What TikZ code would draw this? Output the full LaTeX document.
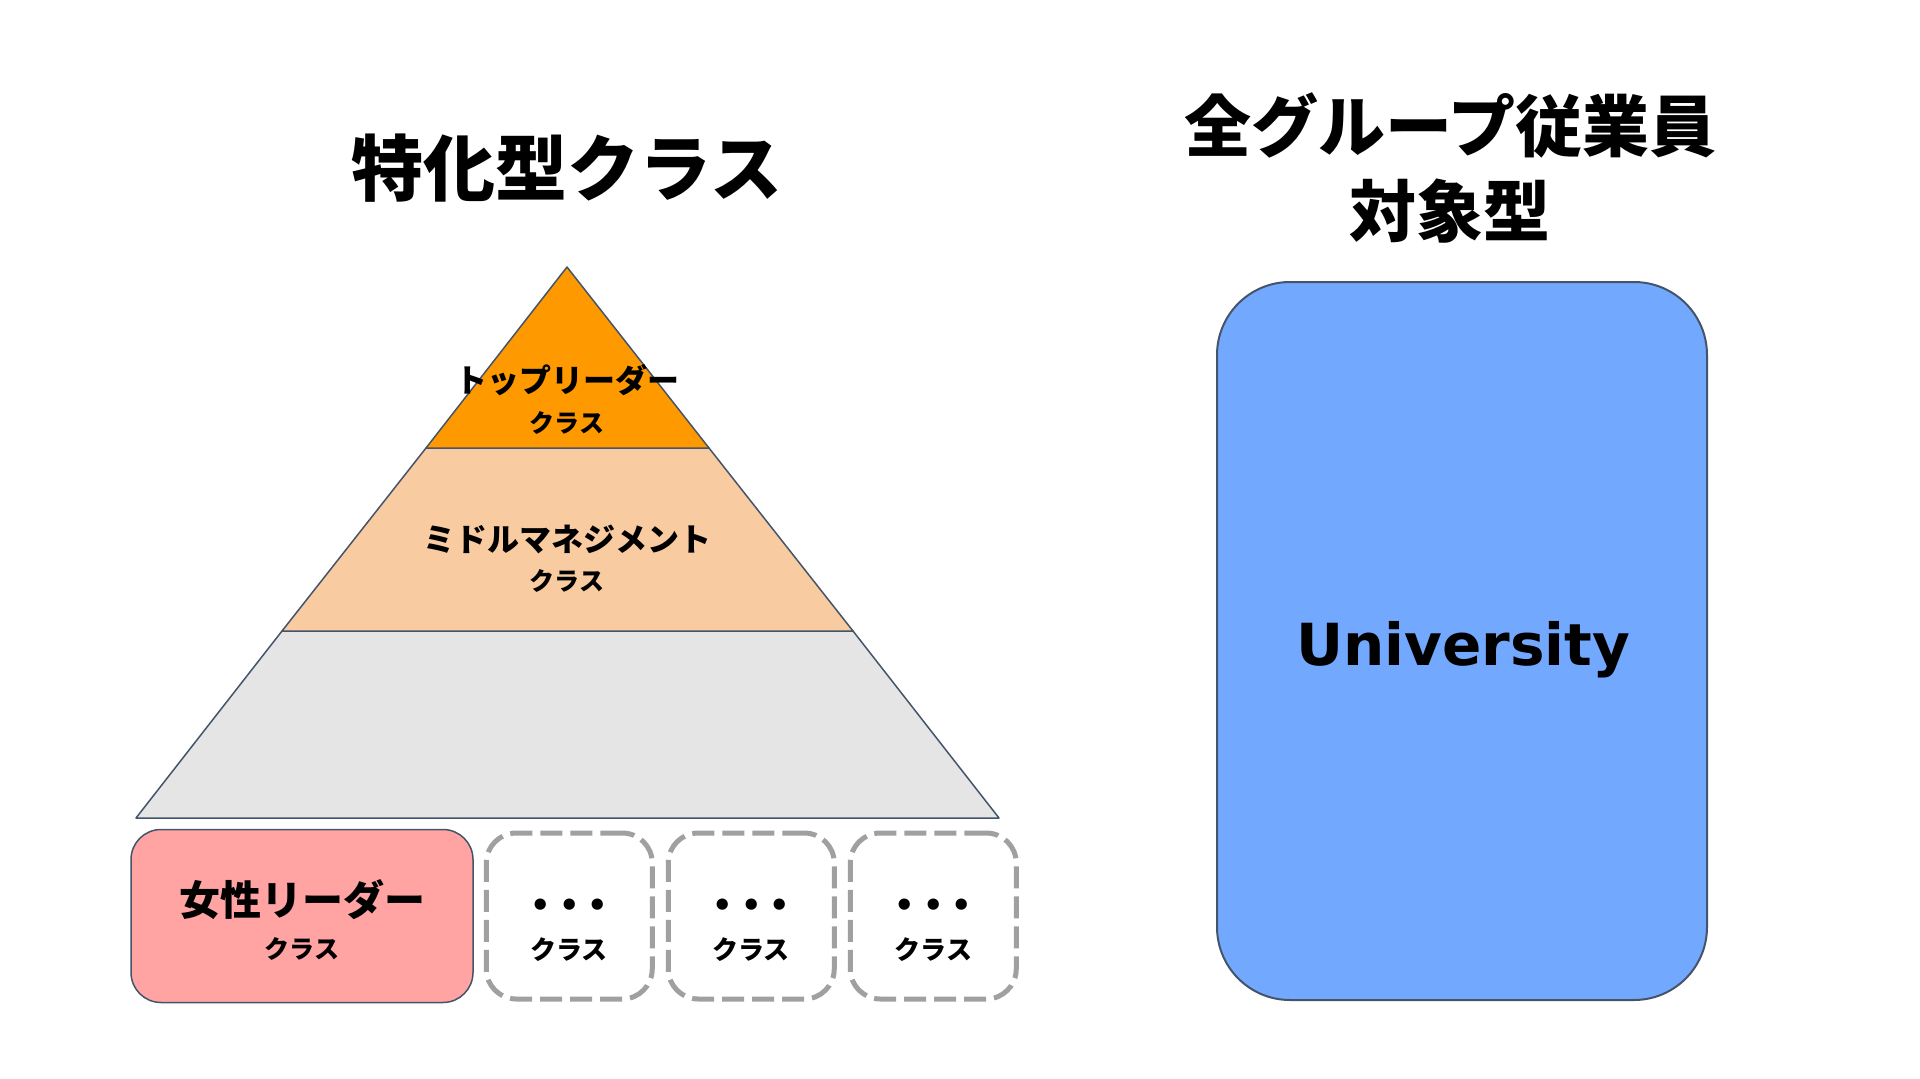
\documentclass[tikz,border=0pt]{standalone}
\usepackage{fontspec}
\newfontfamily\jpfont{Noto Sans CJK JP}
\newfontfamily\unifont{DejaVu Sans}
\usetikzlibrary{positioning}
\definecolor{edgeblue}{HTML}{44546A}
\definecolor{toporange}{HTML}{FF9900}
\definecolor{midpeach}{HTML}{F8CBA0}
\definecolor{basegray}{HTML}{E5E5E5}
\definecolor{womenpink}{HTML}{FFA3A3}
\definecolor{unifill}{HTML}{73A8FF}
\definecolor{dashgray}{HTML}{A0A0A0}
\newcommand{\threedots}{{\unifont\fontsize{32}{32}\selectfont •\hspace{8pt}•\hspace{8pt}•}}

\begin{document}
\begin{tikzpicture}[
    x=1pt, y=-1pt,
    node distance=10pt and 11pt,
    tier/.style={draw=edgeblue, line width=1.5pt, line join=round},
    ttl/.style={font=\jpfont\bfseries\fontsize{72}{85}\selectfont, align=center, inner sep=0pt},
    tierlbl/.style={font=\jpfont\bfseries\fontsize{32}{32}\selectfont, inner sep=0pt},
    smalllbl/.style={font=\jpfont\bfseries\fontsize{25}{25}\selectfont, inner sep=0pt},
    pinkbox/.style={rectangle, draw=edgeblue, fill=womenpink, line width=1.5pt, rounded corners=30pt, minimum width=342pt, minimum height=173pt},
    dashbox/.style={rectangle, draw=dashgray, dash pattern=on 22pt off 8pt, line width=5pt, rounded corners=30pt, minimum width=166pt, minimum height=166pt},
    boxlbl/.style={align=center, inner sep=0pt, font=\jpfont\bfseries},
    unibox/.style={rectangle, draw=edgeblue, fill=unifill, line width=2pt, rounded corners=73pt, minimum width=490pt, minimum height=718pt}
]
    \useasboundingbox (0,0) rectangle (1920,1079);

    % titles
    \node [ttl] (lefttitle) at (567,168) {特化型クラス};
    \node [ttl, font=\jpfont\bfseries\fontsize{67}{85}\selectfont] (righttitle) at (1450,168) {全グループ従業員\\対象型};

    % pyramid
    \path [tier, fill=basegray] (282,631) -- (853,631) -- (999,818) -- (136,818) -- cycle;
    \path [tier, fill=midpeach] (426,448) -- (709,448) -- (853,631) -- (282,631) -- cycle;
    \path [tier, fill=toporange] (567,267) -- (709,448) -- (426,448) -- cycle;

    \node [tierlbl] (toplbl) at (567,380) {トップリーダー};
    \node [smalllbl, below=15pt of toplbl] (topcls) {クラス};
    \node [tierlbl] (midlbl) at (567,539) {ミドルマネジメント};
    \node [smalllbl, below=16pt of midlbl] (midcls) {クラス};

    % classes under the pyramid
    \node [pinkbox] (women) at (302,916) {};
    \node [boxlbl, yshift=-4pt] (womenlbl) at (women) {{\fontsize{41}{41}\selectfont 女性リーダー}\\[17pt]{\fontsize{25}{25}\selectfont クラス}};
    \node [dashbox, right=10pt of women] (other1) {};
    \node [dashbox, right=of other1] (other2) {};
    \node [dashbox, right=of other2] (other3) {};
    \foreach \n in {1,2,3}
        \node [boxlbl, yshift=-14pt] (otherlbl\n) at (other\n) {\threedots\\[20pt]{\fontsize{26}{26}\selectfont クラス}};

    % all-employee box
    \node [unibox] (univ) at (1462,641) {};
    \node [font=\unifont\bfseries\fontsize{58}{58}\selectfont, inner sep=0pt] (unilbl) at (1463,650) {University};
\end{tikzpicture}
\end{document}
